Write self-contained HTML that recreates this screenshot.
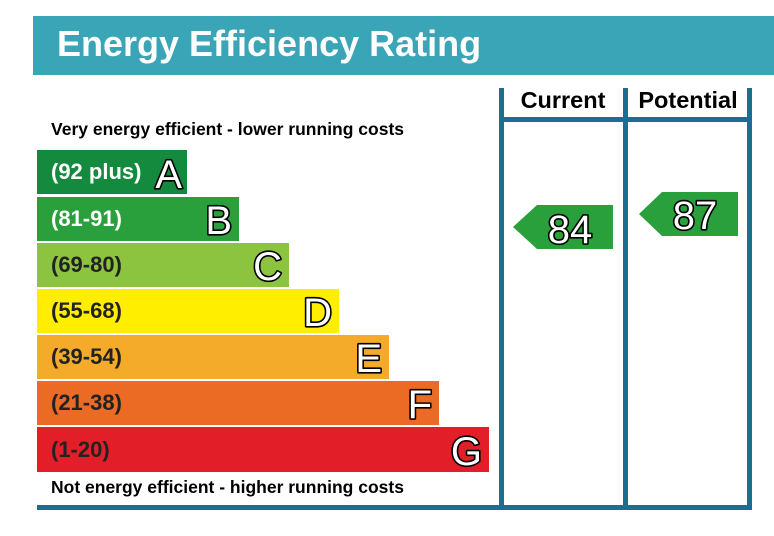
<!DOCTYPE html>
<html><head><meta charset="utf-8"><style>
html,body{margin:0;padding:0;background:#fff;}
svg{display:block;font-family:"Liberation Sans",Arial,sans-serif;font-weight:bold;}
.l{font-size:22px;}
.big{font-size:40px;font-weight:normal;fill:#fff;stroke:#000;stroke-width:3.2px;paint-order:stroke;stroke-linejoin:round;}
</style></head><body>
<svg width="774" height="536" viewBox="0 0 774 536">
<rect x="33" y="16" width="741" height="59" fill="#3ba5b8"/>
<text x="57" y="56" font-size="36" fill="#fff">Energy Efficiency Rating</text>
<rect x="499" y="88" width="5" height="420" fill="#1a6e96"/>
<rect x="623" y="88" width="5" height="420" fill="#1a6e96"/>
<rect x="747" y="88" width="5" height="420" fill="#1a6e96"/>
<rect x="499" y="117" width="253" height="5" fill="#1a6e96"/>
<rect x="37" y="505" width="715" height="5" fill="#1a6e96"/>
<text x="563" y="108" font-size="23.5" text-anchor="middle" fill="#000">Current</text>
<text x="688" y="108" font-size="23.5" text-anchor="middle" fill="#000">Potential</text>
<text x="51" y="135" font-size="17.5" fill="#000">Very energy efficient - lower running costs</text>
<text x="51" y="493" font-size="17.5" fill="#000">Not energy efficient - higher running costs</text>
<rect x="37" y="150" width="150" height="44" fill="#148a3f"/>
<rect x="37" y="197" width="202" height="44" fill="#29a03b"/>
<rect x="37" y="243" width="252" height="44" fill="#8cc43f"/>
<rect x="37" y="289" width="302" height="44" fill="#ffee00"/>
<rect x="37" y="335" width="352" height="44" fill="#f5ab2a"/>
<rect x="37" y="381" width="402" height="44" fill="#eb6a24"/>
<rect x="37" y="427" width="452" height="45" fill="#e21e28"/>
<text class="l" x="51" y="179" fill="#fff">(92 plus)</text>
<text class="l" x="51" y="226" fill="#fff">(81-91)</text>
<text class="l" x="51" y="272" fill="#222">(69-80)</text>
<text class="l" x="51" y="318" fill="#222">(55-68)</text>
<text class="l" x="51" y="364" fill="#222">(39-54)</text>
<text class="l" x="51" y="410" fill="#222">(21-38)</text>
<text class="l" x="51" y="457" fill="#222">(1-20)</text>
<text class="big" x="182" y="188" text-anchor="end">A</text>
<text class="big" x="232" y="234" text-anchor="end">B</text>
<text class="big" x="282" y="280" text-anchor="end">C</text>
<text class="big" x="332" y="326" text-anchor="end">D</text>
<text class="big" x="382" y="372" text-anchor="end">E</text>
<text class="big" x="432" y="418" text-anchor="end">F</text>
<text class="big" x="482" y="465" text-anchor="end">G</text>
<polygon points="513,227 537,205 613,205 613,249 537,249" fill="#29a03b"/>
<text class="big" x="570" y="243" text-anchor="middle">84</text>
<polygon points="639,214 662,192 738,192 738,236 662,236" fill="#29a03b"/>
<text class="big" x="695" y="229" text-anchor="middle">87</text>
</svg>
</body></html>
